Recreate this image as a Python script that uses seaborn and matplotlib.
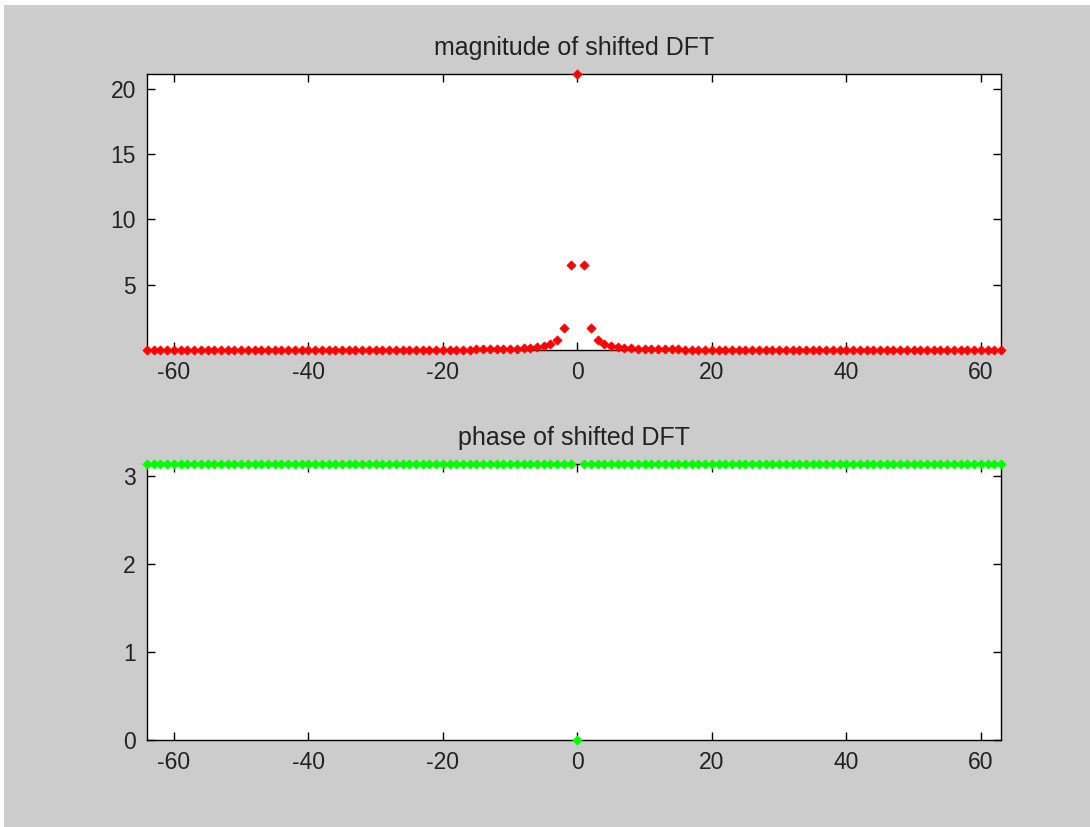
import numpy as np
import matplotlib
matplotlib.use("Agg")
import matplotlib.pyplot as plt
import seaborn as sns
from matplotlib.patches import Rectangle

# frequency index after fftshift
k = np.arange(-64, 64)

# magnitude, k = -64 .. 63
magnitude = [
    0.01, 0.01, 0.01, 0.01, 0.01, 0.01, 0.01, 0.01, 0.01, 0.01,
    0.01, 0.01, 0.01, 0.01, 0.01, 0.01, 0.01, 0.01, 0.01, 0.01,
    0.01, 0.01, 0.01, 0.01, 0.01, 0.01, 0.01, 0.01, 0.01, 0.01,
    0.01, 0.01, 0.01, 0.01,
    0.02, 0.02, 0.02, 0.02, 0.02, 0.02, 0.02, 0.02, 0.02, 0.02,
    0.025, 0.025, 0.03, 0.03, 0.035, 0.04, 0.045, 0.05, 0.06, 0.07,
    0.08, 0.10, 0.12, 0.16, 0.21, 0.30, 0.45, 0.78, 1.68, 6.5,
    21.1,
    6.5, 1.68, 0.78, 0.45, 0.30, 0.21, 0.16, 0.12, 0.10, 0.08,
    0.07, 0.06, 0.05, 0.045, 0.04, 0.035, 0.03, 0.03, 0.025, 0.025,
    0.02, 0.02, 0.02, 0.02, 0.02, 0.02, 0.02, 0.02, 0.02, 0.02,
    0.01, 0.01, 0.01, 0.01, 0.01, 0.01, 0.01, 0.01, 0.01, 0.01,
    0.01, 0.01, 0.01, 0.01, 0.01, 0.01, 0.01, 0.01, 0.01, 0.01,
    0.01, 0.01, 0.01, 0.01, 0.01, 0.01, 0.01, 0.01, 0.01, 0.01,
    0.01, 0.01, 0.01,
]

# phase is pi everywhere except the DC bin
phase = [3.1416] * 64 + [0.0] + [3.1416] * 63

sns.set_style("ticks")
plt.rcParams['font.family'] = ['Liberation Sans', 'DejaVu Sans']
plt.rcParams['axes.unicode_minus'] = False

fig = plt.figure(figsize=(10.9, 8.27), dpi=100, facecolor='white')
# grey window area with a thin white border top/left like the screenshot
fig.patches.append(Rectangle((4 / 1090, -0.01), 1, 822 / 827 + 0.01, transform=fig.transFigure,
                             facecolor='#cccccc', edgecolor='none', zorder=-10))

ax1 = fig.add_axes([147 / 1090, 477 / 827, 854 / 1090, 276 / 827])
ax2 = fig.add_axes([147 / 1090, 87 / 827, 854 / 1090, 276 / 827])

sns.scatterplot(x=k, y=magnitude, ax=ax1, marker='D', s=22, color='#ff0000',
                edgecolor='#ff0000', linewidth=0.5, clip_on=False, zorder=3)
sns.scatterplot(x=k, y=phase, ax=ax2, marker='D', s=22, color='#00ff00',
                edgecolor='#00ff00', linewidth=0.5, clip_on=False, zorder=3)

ax1.set_ylim(0, 21.13)
ax1.set_yticks([5, 10, 15, 20])
ax2.set_ylim(0, np.pi)
ax2.set_yticks([0, 1, 2, 3])

for ax, title in [(ax1, 'magnitude of shifted DFT'), (ax2, 'phase of shifted DFT')]:
    ax.set_xlim(-64, 63)
    ax.set_xticks([-60, -40, -20, 0, 20, 40, 60])
    ax.set_facecolor('white')
    ax.set_title(title, fontsize=18, pad=14, color='#222222')
    ax.tick_params(direction='in', top=True, right=True, length=6, width=1,
                   labelsize=16.5, colors='black', labelcolor='#222222', pad=8)
    for sp in ax.spines.values():
        sp.set_visible(True)
        sp.set_color('black')
        sp.set_linewidth(1)

fig.savefig('out.png', dpi=100, facecolor=fig.get_facecolor())
